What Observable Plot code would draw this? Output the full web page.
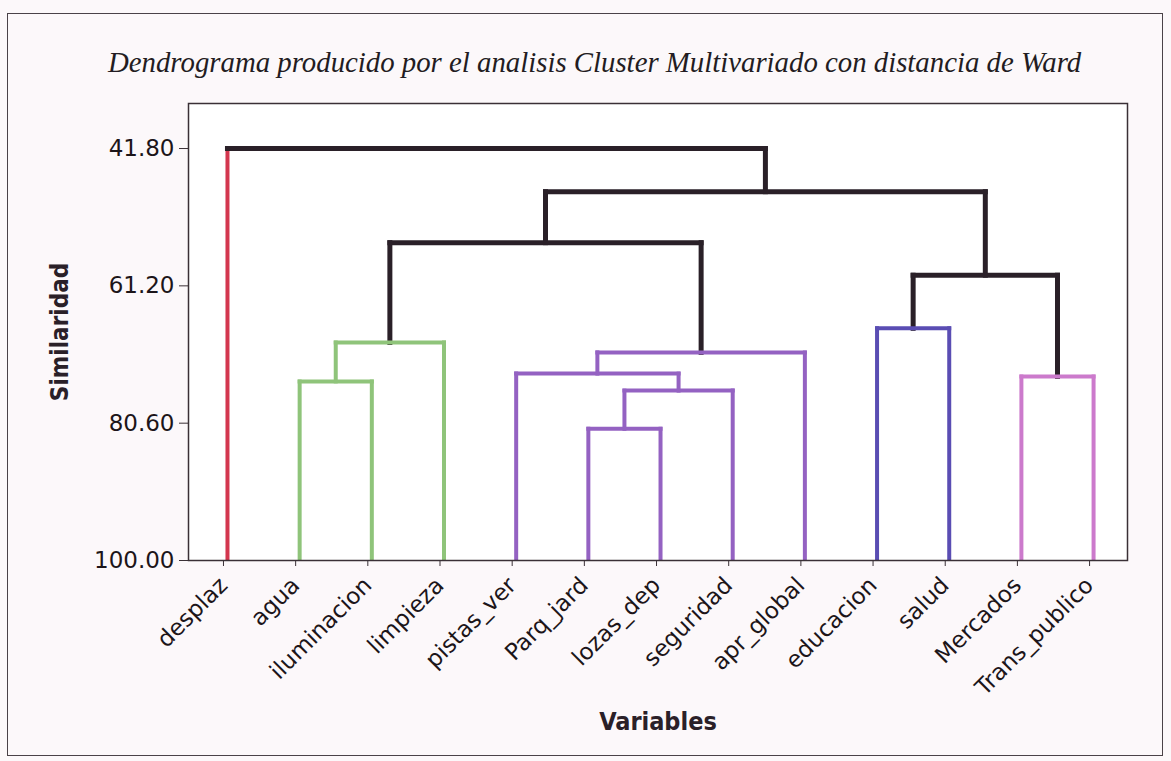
<!DOCTYPE html>
<html>
<head>
<meta charset="utf-8">
<script src="https://cdn.jsdelivr.net/npm/d3@7"></script>
<script src="https://cdn.jsdelivr.net/npm/@observablehq/plot@0.6"></script>
<style>
  html, body { margin: 0; padding: 0; background: #fcf8fa; }
  #wrap { position: relative; width: 1171px; height: 761px; overflow: hidden; }
  #border { position: absolute; left: 7px; top: 13px; width: 1156px; height: 743px; border: 1.5px solid #4a4248; box-sizing: border-box; }
  #title { position: absolute; left: 108px; top: 46px; font-family: "Liberation Serif", "Times New Roman", serif; font-style: italic; font-size: 28.8px; color: #231c22; white-space: nowrap; }
  #chart { position: absolute; left: 0; top: 0; }
</style>
</head>
<body>
<div id="wrap">
  <div id="border"></div>
  <div id="title">Dendrograma producido por el analisis Cluster Multivariado con distancia de Ward</div>
  <div id="chart"></div>
</div>
<script>
// Leaves (in dendrogram order)
const leaves = ["desplaz","agua","iluminacion","limpieza","pistas_ver","Parq_jard","lozas_dep","seguridad","apr_global","educacion","salud","Mercados","Trans_publico"];
// Cluster membership of each leaf
const clusterOfLeaf = [0,1,1,1,2,2,2,2,2,3,3,4,4];
const clusterColors = ["#d3364e","#8fc47a","#9462c2","#5a4db3","#cc7acc"];
const linkBlack = "#2a2028";
// Merges: node ids 0..12 are leaves, 13.. are merged nodes in this order
const mergeLeft   = [5, 13, 1, 11, 4, 17, 15, 9, 20, 19, 22, 0];
const mergeRight  = [6, 7, 2, 12, 14, 8, 3, 10, 16, 18, 21, 23];
const mergeHeight = [81.4, 76.0, 74.7, 74.0, 73.6, 70.6, 69.2, 67.2, 59.7, 55.1, 47.9, 41.8];
const yTicks = [41.80, 61.20, 80.60, 100.00];

const n = leaves.length;
const pos = leaves.map((_, i) => i);
const hgt = leaves.map(() => 100);
const clu = clusterOfLeaf.slice();
const col = clusterOfLeaf.map(c => clusterColors[c]);
const segV = [], segH = [];
mergeLeft.forEach((l, k) => {
  const r = mergeRight[k], id = n + k, h = mergeHeight[k];
  pos[id] = (pos[l] + pos[r]) / 2;
  hgt[id] = h;
  clu[id] = clu[l] === clu[r] ? clu[l] : -1;
  col[id] = clu[id] >= 0 ? clusterColors[clu[id]] : linkBlack;
  // a leaf keeps its cluster colour; an inner node's stem takes the parent's colour
  const vc = c => (c < n ? col[c] : col[id]);
  segV.push({x1: pos[l], y1: hgt[l], x2: pos[l], y2: h, c: vc(l)});
  segV.push({x1: pos[r], y1: hgt[r], x2: pos[r], y2: h, c: vc(r)});
  segH.push({x1: pos[l], y1: h, x2: pos[r], y2: h, c: col[id]});
});

const sw = d => d.c === linkBlack ? 5 : 4;

const chart = Plot.plot({
  width: 1171,
  height: 761,
  marginLeft: 188,
  marginRight: 44,
  marginTop: 103,
  marginBottom: 201,
  style: {fontFamily: "DejaVu Sans", fontSize: "23px", color: "#1c1519", background: "transparent"},
  x: {domain: [-0.54, 12.47], axis: null},
  y: {domain: [100, 35.44], axis: null},
  color: {type: "identity"},
  marks: [
    Plot.frame({fill: "white", stroke: null}),
    Plot.link(segV, {x1: "x1", y1: "y1", x2: "x2", y2: "y2", stroke: "c", strokeWidth: sw, strokeLinecap: "square", clip: "frame"}),
    Plot.link(segH, {x1: "x1", y1: "y1", x2: "x2", y2: "y2", stroke: "c", strokeWidth: sw, strokeLinecap: "square", clip: "frame"}),
    Plot.frame({stroke: "#3a3036", strokeWidth: 1.5}),
    Plot.axisY(yTicks, {tickFormat: d3.format(".2f"), tickSize: 9, tickPadding: 5, fontSize: 23, label: null, stroke: "#3a3036"}),
    Plot.axisX(d3.range(n), {tickFormat: i => leaves[i], tickRotate: -45, tickSize: 6, tickPadding: 15, dx: -4, fontSize: 23, label: null, stroke: "#3a3036"}),
    Plot.text(["Variables"], {text: d => d, frameAnchor: "bottom", dy: 169, fontWeight: "bold", fontSize: 25, fontFamily: "DejaVu Sans Condensed", fill: "#2a2028"}),
    Plot.text(["Similaridad"], {text: d => d, frameAnchor: "left", textAnchor: "middle", dx: -128, rotate: -90, fontWeight: "bold", fontSize: 24, fontFamily: "DejaVu Sans Condensed", fill: "#2a2028"})
  ]
});
document.getElementById("chart").appendChild(chart);
</script>
</body>
</html>
